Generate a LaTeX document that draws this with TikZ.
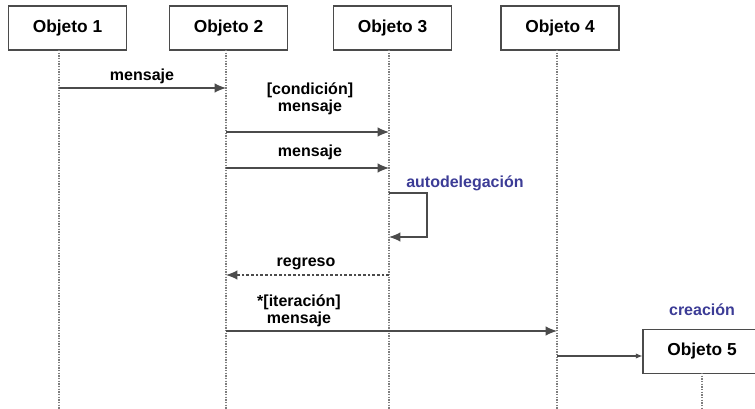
\documentclass[tikz,border=0pt]{standalone}
\usepackage{fontspec}
\setmainfont{Liberation Sans}
\usetikzlibrary{arrows.meta}
\usetikzlibrary{positioning}
\definecolor{linegray}{RGB}{75,75,75}
\definecolor{lifegray}{RGB}{125,125,125}
\definecolor{noteblue}{RGB}{60,60,150}
\tikzset{>={Latex[length=8.5pt,width=7pt]}, x=0.75pt, y=-0.75pt, font=\bfseries\fontsize{12}{13}\selectfont}
\tikzstyle{object} = [draw=linegray, line width=0.8pt, fill=white, rectangle, minimum height=33pt, minimum width=88.5pt, font=\bfseries\fontsize{13}{15}\selectfont]
\tikzstyle{life} = [draw=lifegray, line width=0.9pt, dash pattern=on 0.9pt off 1.1pt]
\tikzstyle{msg} = [draw=linegray, line width=0.8pt, ->]
\tikzstyle{ret} = [msg, dash pattern=on 2pt off 1.5pt]
\tikzstyle{label} = [align=center, inner sep=0pt]
\tikzstyle{note} = [text=noteblue, inner sep=0pt]
\tikzstyle{point} = [coordinate]

\begin{document}
\begin{tikzpicture}
		\clip (0,0) rectangle (755,409);
		\useasboundingbox (0,0) rectangle (755,409);

		\node [object] (obj1) at (67.5,28) {Objeto 1};
		\node [object] (obj2) at (228.5,28) {Objeto 2};
		\node [object] (obj3) at (392.5,28) {Objeto 3};
		\node [object] (obj4) at (560,28) {Objeto 4};
		\node [object] (obj5) at (702,351.5) {Objeto 5};
		\node [note, above=10pt of obj5] (crea) {creación};

		\node [point] (life1) at (59,50) {};
		\node [point] (life2) at (226,50) {};
		\node [point] (life3) at (389,50) {};
		\node [point] (life4) at (557,50) {};
		\node [point] (life5) at (702,373) {};
		\node [point] (bottom) at (0,409) {};

		\draw [life] (life1) -- (life1 |- bottom);
		\draw [life] (life2) -- (life2 |- bottom);
		\draw [life] (life3) -- (life3 |- bottom);
		\draw [life] (life4) -- (life4 |- bottom);
		\draw [life] (life5) -- (life5 |- bottom);

		\node [point] (m1) at (0,88) {};
		\node [point] (m2) at (0,132) {};
		\node [point] (m3) at (0,168) {};
		\node [point] (self_in) at (0,193) {};
		\node [point] (self_out) at (427,193) {};
		\node [point] (self_back) at (0,237) {};
		\node [point] (m_ret) at (0,275) {};
		\node [point] (m_it) at (0,331) {};
		\node [point] (m_new) at (0,356) {};

		\node [label] (lbl_m1) at (142,76) {mensaje};
		\node [label] (lbl_cond) at (310,99) {[condición]\\mensaje};
		\node [label] (lbl_m3) at (310,152) {mensaje};
		\node [note, anchor=west] (lbl_self) at (406,183) {autodelegación};
		\node [label] (lbl_ret) at (306,264) {regreso};
		\node [label] (lbl_it) at (299,311) {*[iteración]\\mensaje};

		\draw [msg] (life1 |- m1) -- (life2 |- m1);
		\draw [msg] (life2 |- m2) -- (life3 |- m2);
		\draw [msg] (life2 |- m3) -- (life3 |- m3);
		\draw [msg] (life3 |- self_in) -- (self_out) |- (life3 |- self_back);
		\draw [ret] (life3 |- m_ret) -- (life2 |- m_ret);
		\draw [msg] (life2 |- m_it) -- (life4 |- m_it);
		\draw [msg, -{Latex[length=5pt,width=4pt]}] (life4 |- m_new) -- (obj5.west |- m_new);

	\end{tikzpicture}
\end{document}
